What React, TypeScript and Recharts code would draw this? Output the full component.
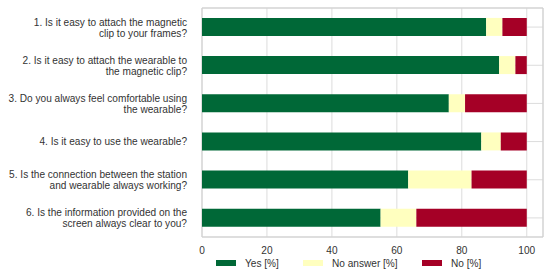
import React from "react";
import {
  BarChart,
  Bar,
  XAxis,
  YAxis,
  CartesianGrid,
  ReferenceArea,
} from "recharts";

const questionsLine1 = [
  "1. Is it easy to attach the magnetic",
  "2. Is it easy to attach the wearable to",
  "3. Do you always feel comfortable using",
  "4. Is it easy to use the wearable?",
  "5. Is the connection between the station",
  "6. Is the information provided on the",
];
const questionsLine2 = [
  "clip to your frames?",
  "the magnetic clip?",
  "the wearable?",
  "",
  "and wearable always working?",
  "screen always clear to you?",
];
const yesValues = [87.5, 91.5, 76, 86, 63.5, 55];
const noAnswerValues = [5, 5, 5, 6, 19.5, 11];
const noValues = [7.5, 3.5, 19, 8, 17, 34];
const xTicks = [0, 20, 40, 60, 80, 100];
const seriesNames = ["Yes [%]", "No answer [%]", "No [%]"];
const seriesColors = ["#006837", "#FFFFBF", "#A50026"];

const data = questionsLine1.map((q, i) => ({
  q: String(i),
  yes: yesValues[i],
  noAnswer: noAnswerValues[i],
  no: noValues[i],
}));

const FONT = "'Liberation Sans', Arial, sans-serif";
const FS = 10.1;

const YTick = (props: any) => {
  const { x, y, payload } = props;
  const i = Number(payload.value);
  const l1 = questionsLine1[i];
  const l2 = questionsLine2[i];
  if (!l2) {
    return (
      <text x={x} y={y} dy="0.35em" textAnchor="end" fontSize={FS} fill="#333" fontFamily={FONT}>
        {l1}
      </text>
    );
  }
  return (
    <text textAnchor="end" fontSize={FS} fill="#333" fontFamily={FONT}>
      <tspan x={x} y={y - 5} dy="0.35em">{l1}</tspan>
      <tspan x={x} y={y + 6} dy="0.35em">{l2}</tspan>
    </text>
  );
};

const legendLefts = [216, 303, 422];

const LegendBox = () => (
  <div style={{ position: "absolute", left: 0, top: 256, width: 550, height: 14 }}>
    {seriesNames.map((n, i) => (
      <div
        key={n}
        style={{
          position: "absolute",
          left: legendLefts[i],
          top: 0,
          display: "flex",
          alignItems: "center",
          height: 14,
          fontFamily: FONT,
          fontSize: FS,
          color: "#333",
          whiteSpace: "nowrap",
        }}
      >
        <span
          style={{
            display: "inline-block",
            width: 20,
            height: 6,
            background: seriesColors[i],
            marginRight: 9,
          }}
        />
        <span>{n}</span>
      </div>
    ))}
  </div>
);

export default function App() {
  return (
    <div style={{ position: "absolute", left: 0, top: 0, width: 550, height: 276, background: "#fff" }}>
      <BarChart
        width={550}
        height={276}
        data={data}
        layout="vertical"
        margin={{ top: 8, right: 7, bottom: 19, left: 0 }}
        barCategoryGap="26%"
      >
        <CartesianGrid stroke="#dcdcdc" strokeWidth={1} />
        <ReferenceArea x1={0} x2={105} fill="none" stroke="#cfcfcf" strokeWidth={1} ifOverflow="visible" />
        <XAxis
          type="number"
          domain={[0, 105]}
          ticks={xTicks}
          axisLine={false}
          tickLine={false}
          tickMargin={4}
          height={20}
          tick={{ fontSize: FS, fill: "#333", fontFamily: FONT }}
          interval={0}
        />
        <YAxis
          type="category"
          dataKey="q"
          width={202}
          axisLine={false}
          tickLine={false}
          tickMargin={9}
          tick={<YTick />}
          interval={0}
        />
        <Bar dataKey="yes" stackId="a" fill={seriesColors[0]} isAnimationActive={false} />
        <Bar dataKey="noAnswer" stackId="a" fill={seriesColors[1]} isAnimationActive={false} />
        <Bar dataKey="no" stackId="a" fill={seriesColors[2]} isAnimationActive={false} />
      </BarChart>
      <LegendBox />
    </div>
  );
}
